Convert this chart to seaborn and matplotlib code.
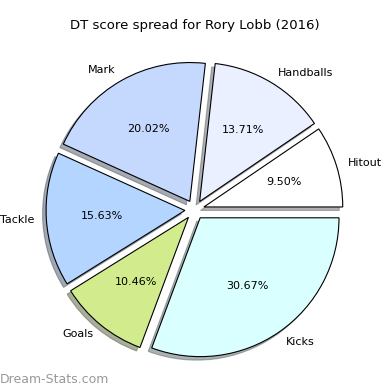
import matplotlib
matplotlib.use("Agg")
import matplotlib.pyplot as plt
import seaborn as sns

sns.set_style("white")
plt.rcParams['font.family'] = ['DejaVu Sans']
plt.rcParams['text.color'] = 'black'

# Data
labels = ['Hitout', 'Handballs', 'Mark', 'Tackle', 'Goals', 'Kicks']
values = [9.50, 13.71, 20.02, 15.63, 10.46, 30.67]
colors = ['#ffffff', '#eaf0ff', '#c5d9ff', '#b4d5ff', '#d2eb8d', '#d9ffff']
explode = [0.07] * len(values)

fig = plt.figure(figsize=(3.9, 3.9), dpi=100)
ax = fig.add_axes([0.054, 0.017, 0.89, 0.89])

wedges, texts, autotexts = ax.pie(values, labels=labels, colors=colors, explode=explode,
                                  autopct='%.2f%%', startangle=0, labeldistance=1.085,
                                  shadow={'ox': -0.018, 'oy': -0.018, 'shade': 0.6},
                                  wedgeprops={'edgecolor': 'black', 'linewidth': 0.8},
                                  textprops={'fontsize': 8, 'color': 'black'})
ax.set_aspect('equal')
fig.text(0.5, 1 - 25 / 390, 'DT score spread for Rory Lobb (2016)', fontsize=9.5,
         ha='center', va='center', color='black')

fig.text(0.0, 0.01, 'Dream-Stats.com', fontsize=9, color='#999999', ha='left', va='bottom')

plt.savefig('out.png', dpi=100)
plt.close()
